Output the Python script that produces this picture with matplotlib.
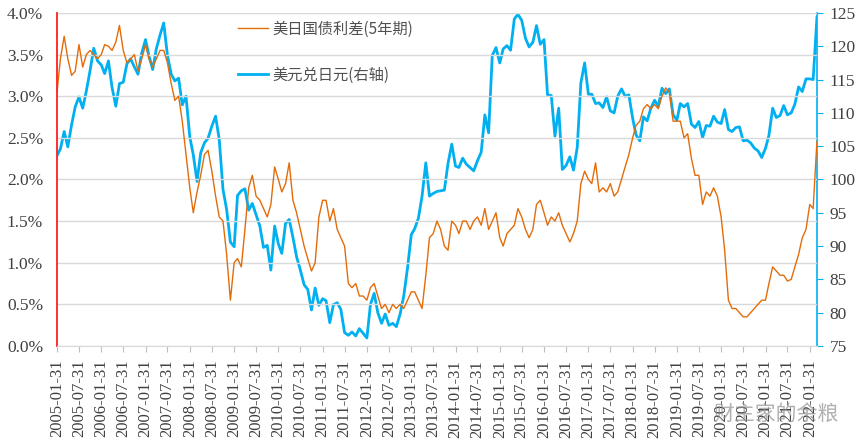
import matplotlib
matplotlib.use("Agg")
import matplotlib.pyplot as plt
import matplotlib.font_manager as fm
import numpy as np
import pandas as pd

serif = [f.name for f in fm.fontManager.ttflist if f.name in ('Liberation Serif', 'DejaVu Serif')]
serif_name = 'Liberation Serif' if 'Liberation Serif' in serif else 'DejaVu Serif'
plt.rcParams['font.family'] = [serif_name, 'Noto Sans CJK SC', 'DejaVu Sans']

# 月度数据 2005-01 ~ 2022-03
dates = pd.date_range('2005-01-31', periods=207, freq='ME')

# 美日国债利差(5年期), %
spread = [
    3.05, 3.45, 3.72, 3.45, 3.25, 3.30, 3.62, 3.35, 3.50, 3.55, 3.50, 3.45,  # 2005
    3.50, 3.62, 3.60, 3.55, 3.65, 3.85, 3.55, 3.40, 3.45, 3.50, 3.30, 3.45,  # 2006
    3.62, 3.45, 3.35, 3.45, 3.55, 3.55, 3.40, 3.15, 2.95, 3.00, 2.70, 2.30,  # 2007
    1.90, 1.60, 1.85, 2.05, 2.30, 2.35, 2.10, 1.80, 1.55, 1.50, 1.10, 0.55,  # 2008
    1.00, 1.05, 0.95, 1.40, 1.90, 2.05, 1.80, 1.75, 1.65, 1.55, 1.70, 2.15,  # 2009
    2.00, 1.85, 1.95, 2.20, 1.75, 1.60, 1.40, 1.20, 1.05, 0.90, 1.00, 1.55,  # 2010
    1.75, 1.75, 1.50, 1.65, 1.40, 1.30, 1.20, 0.75, 0.70, 0.75, 0.60, 0.60,  # 2011
    0.55, 0.70, 0.75, 0.60, 0.45, 0.50, 0.40, 0.50, 0.45, 0.50, 0.45, 0.55,  # 2012
    0.65, 0.65, 0.55, 0.45, 0.85, 1.30, 1.35, 1.50, 1.40, 1.20, 1.15, 1.50,  # 2013
    1.45, 1.35, 1.50, 1.50, 1.40, 1.50, 1.55, 1.45, 1.65, 1.40, 1.50, 1.60,  # 2014
    1.30, 1.20, 1.35, 1.40, 1.45, 1.65, 1.55, 1.40, 1.30, 1.40, 1.70, 1.75,  # 2015
    1.60, 1.45, 1.55, 1.50, 1.60, 1.45, 1.35, 1.25, 1.35, 1.50, 1.95, 2.10,  # 2016
    2.00, 1.95, 2.20, 1.85, 1.90, 1.85, 1.95, 1.80, 1.85, 2.00, 2.15, 2.30,  # 2017
    2.50, 2.65, 2.70, 2.85, 2.90, 2.85, 2.90, 2.85, 3.00, 3.10, 3.05, 2.70,  # 2018
    2.70, 2.70, 2.50, 2.55, 2.25, 2.05, 2.05, 1.70, 1.85, 1.80, 1.90, 1.80,  # 2019
    1.55, 1.15, 0.55, 0.45, 0.45, 0.40, 0.35, 0.35, 0.40, 0.45, 0.50, 0.55,  # 2020
    0.55, 0.75, 0.95, 0.90, 0.85, 0.85, 0.78, 0.80, 0.95, 1.10, 1.30, 1.40,  # 2021
    1.70, 1.65, 2.45,                                                        # 2022
]

# 美元兑日元
usdjpy = [
    103.6, 104.6, 107.2, 104.9, 108.2, 110.9, 112.4, 110.7, 113.3, 116.4, 119.7, 117.8,  # 2005
    117.2, 115.9, 117.8, 113.8, 111.0, 114.4, 114.6, 117.4, 118.1, 116.9, 115.8, 119.0,  # 2006
    121.0, 118.6, 116.5, 119.6, 121.7, 123.5, 118.6, 115.8, 114.8, 115.2, 111.2, 112.5,  # 2007
    106.4, 103.7, 99.7, 104.0, 105.5, 106.2, 108.0, 109.5, 106.0, 98.5, 95.5, 90.6,      # 2008
    89.9, 97.6, 98.3, 98.6, 95.4, 96.4, 94.7, 93.0, 89.8, 90.1, 86.4, 93.0,              # 2009
    90.3, 88.9, 93.4, 94.0, 91.3, 88.4, 86.4, 84.2, 83.5, 80.4, 83.7, 81.1,              # 2010
    82.1, 81.8, 78.5, 81.2, 81.5, 80.5, 77.0, 76.6, 77.1, 76.5, 77.6, 76.9,              # 2011
    76.2, 81.2, 82.9, 80.0, 78.4, 79.8, 78.1, 78.4, 77.9, 79.8, 82.5, 86.7,              # 2012
    91.7, 92.6, 94.2, 97.5, 102.5, 97.5, 97.9, 98.2, 98.3, 98.4, 102.4, 105.3,           # 2013
    102.0, 101.8, 103.2, 102.3, 101.8, 101.3, 102.8, 104.1, 109.7, 107.0, 118.6, 119.8,  # 2014
    117.5, 119.6, 120.1, 119.4, 124.1, 124.8, 123.9, 121.2, 119.9, 120.6, 123.1, 120.3,  # 2015
    121.0, 112.7, 112.6, 106.5, 110.7, 101.5, 102.1, 103.4, 101.4, 104.8, 114.5, 117.5,  # 2016
    112.8, 112.8, 111.4, 111.5, 110.8, 112.4, 110.3, 110.0, 112.5, 113.6, 112.5, 112.7,  # 2017
    109.2, 106.7, 105.8, 109.4, 108.8, 110.7, 111.9, 111.0, 113.7, 112.9, 113.6, 109.7,  # 2018
    108.9, 111.4, 110.9, 111.4, 108.3, 107.8, 108.7, 106.3, 108.1, 108.0, 109.5, 108.6,  # 2019
    108.4, 110.5, 107.5, 107.2, 107.8, 107.9, 105.8, 105.9, 105.5, 104.7, 104.3, 103.3,  # 2020
    104.7, 106.6, 110.7, 109.3, 109.6, 111.1, 109.7, 110.0, 111.3, 113.9, 113.2, 115.1,  # 2021
    115.1, 115.0, 124.3,                                                                  # 2022
]

tick_dates = pd.date_range('2005-01-31', '2022-01-31', freq='6ME')

orange = '#E36C09'
blue = '#00B0F0'
label_color = '#404040'

fig = plt.figure(figsize=(8.64, 4.47), dpi=100)
ax = fig.add_axes([0.066, 0.226, 0.8795, 0.745])
ax2 = ax.twinx()

l1, = ax.plot(dates, np.array(spread) / 100, color=orange, lw=1.0, label='美日国债利差(5年期)')
l2, = ax2.plot(dates, usdjpy, color=blue, lw=2.0, label='美元兑日元(右轴)')
ax.set_zorder(ax2.get_zorder() + 1)
ax.patch.set_visible(False)

ax.set_ylim(0, 0.04)
ax.set_yticks(np.arange(0, 0.0401, 0.005))
ax.set_yticklabels([f'{v * 100:.1f}%' for v in np.arange(0, 0.0401, 0.005)])
ax2.set_ylim(75, 125)
ax2.set_yticks(range(75, 126, 5))

ax.set_xlim(dates[0], dates[-1])
ax.set_xticks(tick_dates)
ax.set_xticklabels([d.strftime('%Y-%m-%d') for d in tick_dates], rotation=90)

ax.grid(axis='y', color='#D9D9D9', lw=1)
ax.set_axisbelow(True)

for a in (ax, ax2):
    a.spines['top'].set_visible(False)
ax.spines['left'].set_color('#FF2020')
ax.spines['left'].set_linewidth(1.3)
ax.spines['right'].set_visible(False)
ax.spines['bottom'].set_color('#D9D9D9')
ax2.spines['left'].set_visible(False)
ax2.spines['bottom'].set_visible(False)
ax2.spines['right'].set_color(blue)
ax2.spines['right'].set_linewidth(1.2)

ax.tick_params(axis='y', length=0, labelsize=12.5, colors=label_color, pad=10)
ax.tick_params(axis='x', length=4, color='#BFBFBF', labelsize=12, labelcolor=label_color, pad=6)
ax2.tick_params(axis='y', length=4, color=blue, labelsize=12.5, labelcolor=label_color, pad=5)
for lab in ax.get_xticklabels() + ax.get_yticklabels() + ax2.get_yticklabels():
    lab.set_fontfamily(serif_name)

ax2.legend(handles=[l1, l2], loc='upper left', bbox_to_anchor=(0.259, 0.985),
           bbox_transform=fig.transFigure, frameon=False,
           labelspacing=1.9, handlelength=2.0, handletextpad=0.3,
           prop={'family': ['Noto Sans CJK SC', 'DejaVu Sans'], 'size': 11})
for t in ax2.get_legend().get_texts():
    t.set_color('#505050')

fig.text(0.97, 0.075, '财主家的余粮', ha='right', va='center', fontsize=15,
         color='#909090', alpha=0.7, family=['Noto Sans CJK SC', 'DejaVu Sans'])

fig.savefig('out.png', dpi=100)
